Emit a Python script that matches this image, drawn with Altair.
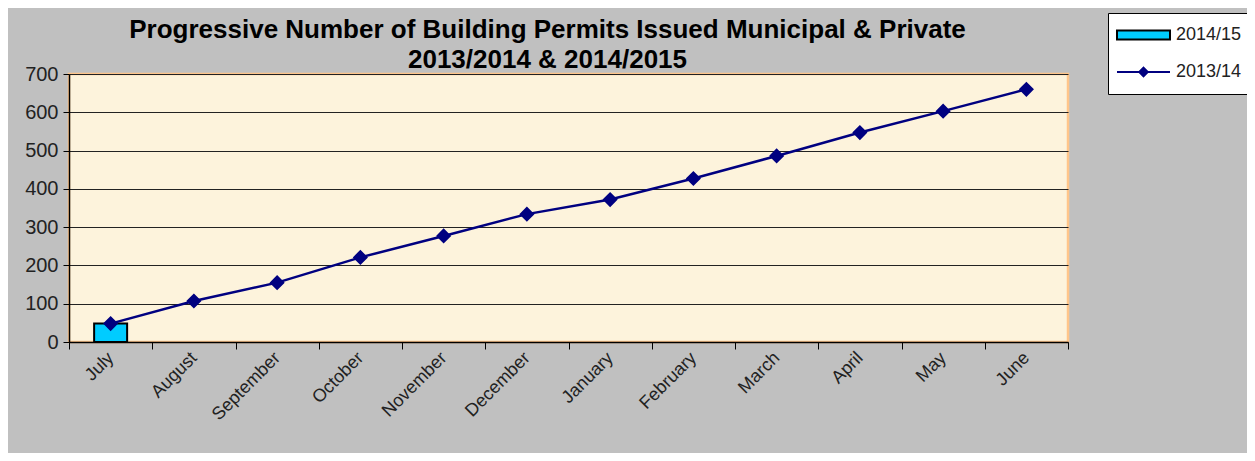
import altair as alt
import pandas as pd

months = ["July", "August", "September", "October", "November", "December",
          "January", "February", "March", "April", "May", "June"]
values_1314 = [48, 107, 155, 221, 277, 334, 372, 427, 486, 547, 603, 660]
bar_months = ["July"]
values_1415 = [48]
y_ticks = [0, 100, 200, 300, 400, 500, 600, 700]

series_names = ["2014/15", "2013/14"]
fill_colors = ["#00CCFF", "#000080"]
stroke_colors = ["black", "#000080"]

line_df = pd.DataFrame({"month": months, "value": values_1314, "series": "2013/14"})
bar_df = pd.DataFrame({"month": bar_months, "value": values_1415, "series": "2014/15"})

rect_path = "M-1,-0.17H1V0.17H-1Z"
line_path = "M-1,0H1M-0.16,0L0,-0.16L0.16,0L0,0.16Z"

x_axis = alt.Axis(title=None, labelAngle=-45, labelAlign="right", labelBaseline="middle",
                  labelFontSize=18, labelColor="#222222", labelFont="Liberation Sans",
                  labelPadding=6, tickBand="extent", tickSize=7, tickColor="black",
                  domainColor="black", domainWidth=1.5, grid=False, labelOverlap=False)
y_axis = alt.Axis(title=None, values=y_ticks, labelFontSize=20,
                  labelColor="#222222", labelFont="Liberation Sans", tickSize=6,
                  tickColor="black", domainColor="black", domainWidth=1.5,
                  grid=True, gridColor="#222222", gridWidth=1, labelPadding=5,
                  labelOverlap=False)

x_scale = alt.Scale(domain=months, paddingInner=0, paddingOuter=0)
y_scale = alt.Scale(domain=[0, 700], nice=False)


def xe():
    return alt.X("month:N", sort=months, scale=x_scale, axis=x_axis)


def ye():
    return alt.Y("value:Q", scale=y_scale, axis=y_axis)


legend = alt.Legend(
    title=None, orient="none", legendX=1039, legendY=-61,
    fillColor="white", strokeColor="black", padding=8,
    symbolSize=2809, clipHeight=28, rowPadding=9, labelOffset=5,
    labelFontSize=18, labelFont="Liberation Sans", labelColor="#222222",
    symbolStrokeWidth=2, symbolOpacity=1,
)

fill_scale = alt.Scale(domain=series_names, range=fill_colors)
stroke_scale = alt.Scale(domain=series_names, range=stroke_colors)
shape_scale = alt.Scale(domain=series_names, range=[rect_path, line_path])

bars = alt.Chart(bar_df).mark_bar(size=33, strokeWidth=2, opacity=1).encode(
    x=xe(), y=ye(),
    fill=alt.Fill("series:N", scale=fill_scale, legend=legend),
    stroke=alt.Stroke("series:N", scale=stroke_scale, legend=legend),
)

line = alt.Chart(line_df).mark_line(strokeWidth=2.5).encode(
    x=xe(), y=ye(),
    stroke=alt.Stroke("series:N", scale=stroke_scale, legend=legend),
)

pts = alt.Chart(line_df).mark_point(filled=True, size=9000, opacity=1, strokeWidth=0).encode(
    x=xe(), y=ye(),
    fill=alt.Fill("series:N", scale=fill_scale, legend=legend),
    shape=alt.Shape("series:N", scale=shape_scale, legend=legend),
)

chart = alt.layer(bars, line, pts).properties(
    width=999, height=268,
    title=alt.TitleParams(
        text=["Progressive Number of Building  Permits Issued Municipal & Private",
              "2013/2014 & 2014/2015"],
        font="Liberation Sans", fontSize=26, fontWeight="bold", color="black",
        lineHeight=30, anchor="middle", dx=-21, offset=-60, frame="group",
    ),
    autosize=alt.AutoSizeParams(type="none"),
    padding={"left": 61, "top": 66, "right": 179, "bottom": 111},
    background="#C0C0C0",
).configure_view(
    fill="#FDF3DC", stroke="#FFC58A", strokeWidth=2.5,
)

chart.save("out.html", embed_options={"renderer": "svg", "actions": False})
